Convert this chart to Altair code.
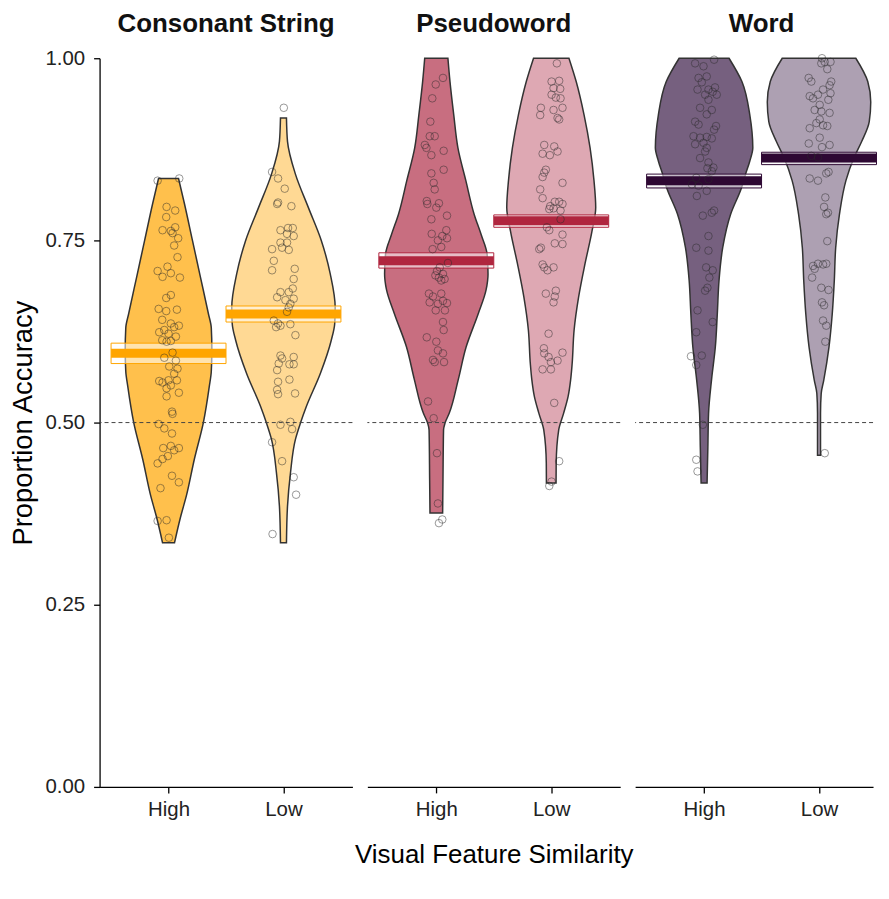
import altair as alt
import pandas as pd

conditions = ["Consonant String", "Pseudoword", "Word"]
similarity = ["High", "Low"]
fill_colors = ["#FFA500", "#B0304A", "#3C1C48"]
mean_colors = ["#FFA500", "#B0263F", "#2E0833"]
chance_level = [0.5]

# mean accuracy and confidence band per (condition, similarity)
mean_acc = [0.595, 0.649, 0.722, 0.777, 0.832, 0.863]
ci_low = [0.581, 0.638, 0.712, 0.768, 0.822, 0.854]
ci_high = [0.609, 0.660, 0.733, 0.785, 0.841, 0.871]

# violin outlines: accuracy level and half-width (in category units)
cs_high_level = [0.835, 0.80, 0.75, 0.70, 0.65, 0.63, 0.60, 0.57, 0.55, 0.50, 0.45, 0.40, 0.37, 0.335]
cs_high_half = [0.087, 0.139, 0.208, 0.277, 0.346, 0.372, 0.377, 0.372, 0.355, 0.303, 0.225, 0.156, 0.104, 0.052]
cs_low_level = [0.918, 0.886, 0.841, 0.795, 0.750, 0.704, 0.658, 0.636, 0.613, 0.567, 0.522, 0.499, 0.477, 0.431, 0.385, 0.335]
cs_low_half = [0.026, 0.035, 0.104, 0.217, 0.329, 0.407, 0.450, 0.446, 0.416, 0.320, 0.199, 0.147, 0.104, 0.061, 0.035, 0.026]
pw_high_level = [1.0, 0.968, 0.922, 0.877, 0.832, 0.786, 0.758, 0.731, 0.704, 0.682, 0.649, 0.604, 0.559, 0.513, 0.499, 0.490, 0.422, 0.376]
pw_high_half = [0.101, 0.119, 0.152, 0.188, 0.257, 0.329, 0.390, 0.442, 0.450, 0.433, 0.364, 0.260, 0.191, 0.113, 0.075, 0.063, 0.058, 0.055]
pw_low_level = [1.0, 0.968, 0.922, 0.877, 0.832, 0.795, 0.763, 0.718, 0.672, 0.627, 0.581, 0.559, 0.536, 0.513, 0.490, 0.444, 0.417]
pw_low_half = [0.154, 0.217, 0.286, 0.338, 0.372, 0.387, 0.355, 0.294, 0.238, 0.199, 0.182, 0.169, 0.147, 0.108, 0.065, 0.043, 0.042]
wd_high_level = [1.0, 0.968, 0.922, 0.877, 0.859, 0.841, 0.822, 0.786, 0.740, 0.695, 0.649, 0.604, 0.559, 0.513, 0.467, 0.417]
wd_high_half = [0.217, 0.329, 0.398, 0.424, 0.398, 0.361, 0.325, 0.231, 0.162, 0.130, 0.115, 0.098, 0.065, 0.039, 0.033, 0.026]
wd_low_level = [1.0, 0.968, 0.940, 0.913, 0.886, 0.863, 0.832, 0.786, 0.740, 0.695, 0.649, 0.604, 0.558, 0.540, 0.513, 0.455]
wd_low_half = [0.320, 0.424, 0.450, 0.437, 0.372, 0.303, 0.234, 0.178, 0.145, 0.133, 0.115, 0.087, 0.041, 0.019, 0.013, 0.013]

# individual participants: accuracy and horizontal jitter
cs_high_acc = [0.832, 0.835, 0.796, 0.791, 0.782, 0.764, 0.763, 0.768, 0.760, 0.753, 0.743, 0.727, 0.708, 0.714,
               0.705, 0.700, 0.699, 0.675, 0.671, 0.656, 0.653, 0.655, 0.641, 0.636, 0.633, 0.627, 0.631, 0.624,
               0.622, 0.618, 0.613, 0.612, 0.611, 0.596, 0.589, 0.585, 0.577, 0.574, 0.567, 0.557, 0.558, 0.558,
               0.555, 0.551, 0.547, 0.541, 0.536, 0.515, 0.512, 0.498, 0.492, 0.485, 0.465, 0.468, 0.465, 0.462,
               0.454, 0.450, 0.444, 0.427, 0.418, 0.410, 0.365, 0.366, 0.342]
cs_high_jit = [-0.095, 0.093, -0.017, 0.058, -0.020, -0.052, 0.020, 0.058, 0.035, 0.084, 0.049, 0.078, -0.095, -0.009,
               0.020, -0.052, 0.099, 0.020, -0.020, -0.086, -0.020, 0.073, -0.055, 0.020, 0.090, -0.037, 0.049, -0.081,
               0.000, 0.064, -0.055, 0.020, -0.017, 0.035, -0.037, 0.064, 0.006, 0.078, 0.049, -0.081, 0.000, 0.073,
               -0.052, 0.020, -0.017, 0.090, -0.017, 0.030, 0.035, -0.086, -0.037, 0.030, -0.046, 0.020, 0.090, 0.049,
               -0.006, -0.052, -0.095, 0.030, 0.090, -0.070, -0.095, -0.017, 0.003]
cs_low_acc = [0.932, 0.844, 0.835, 0.821, 0.802, 0.800, 0.797, 0.764, 0.767, 0.767, 0.759, 0.756, 0.747, 0.747,
              0.738, 0.740, 0.737, 0.722, 0.709, 0.711, 0.697, 0.684, 0.679, 0.679, 0.672, 0.668, 0.663, 0.670,
              0.658, 0.652, 0.640, 0.636, 0.633, 0.631, 0.635, 0.620, 0.592, 0.588, 0.581, 0.590, 0.580, 0.580,
              0.572, 0.559, 0.556, 0.545, 0.539, 0.540, 0.497, 0.501, 0.491, 0.473, 0.447, 0.425, 0.401, 0.347]
cs_low_jit = [0.003, -0.099, -0.047, 0.011, -0.047, -0.055, 0.069, -0.026, 0.040, 0.081, 0.031, 0.089, -0.026, 0.031,
              -0.099, -0.012, 0.046, -0.084, -0.099, 0.098, 0.089, 0.081, 0.046, -0.026, -0.055, 0.017, 0.060, 0.089,
              0.046, 0.031, -0.084, -0.047, -0.026, -0.064, 0.060, 0.104, -0.026, -0.012, -0.041, 0.089, 0.052, 0.089,
              -0.055, 0.052, -0.047, -0.055, -0.047, 0.101, -0.026, 0.060, 0.075, -0.099, -0.012, 0.089, 0.110, -0.095]
pw_high_acc = [0.973, 0.964, 0.945, 0.913, 0.893, 0.893, 0.881, 0.877, 0.867, 0.873, 0.842, 0.847, 0.829, 0.820,
               0.804, 0.800, 0.801, 0.795, 0.779, 0.784, 0.759, 0.764, 0.756, 0.753, 0.750, 0.741, 0.738, 0.719,
               0.713, 0.708, 0.704, 0.699, 0.695, 0.702, 0.697, 0.677, 0.673, 0.677, 0.665, 0.663, 0.667, 0.664,
               0.654, 0.654, 0.638, 0.627, 0.617, 0.611, 0.599, 0.595, 0.586, 0.583, 0.583, 0.529, 0.506, 0.458,
               0.389, 0.362, 0.367]
pw_high_jit = [0.058, -0.005, -0.035, -0.052, -0.057, -0.014, -0.100, -0.086, -0.043, 0.064, -0.043, 0.064, -0.023, -0.014,
               -0.083, -0.078, 0.023, 0.000, -0.043, 0.093, -0.040, 0.087, 0.052, 0.093, 0.014, 0.043, -0.032, 0.101,
               0.030, 0.006, 0.058, 0.023, 0.043, -0.008, 0.072, -0.064, -0.029, 0.043, -0.058, 0.014, 0.058, 0.093,
               -0.005, 0.075, 0.058, 0.064, -0.083, 0.000, 0.014, 0.058, -0.029, -0.014, 0.067, -0.072, -0.023, 0.006,
               0.014, 0.023, 0.052]
pw_low_acc = [0.993, 0.968, 0.969, 0.959, 0.958, 0.950, 0.946, 0.945, 0.932, 0.922, 0.929, 0.932, 0.918, 0.916,
              0.881, 0.879, 0.869, 0.872, 0.867, 0.847, 0.843, 0.837, 0.829, 0.820, 0.808, 0.797, 0.803, 0.803,
              0.800, 0.794, 0.791, 0.793, 0.779, 0.768, 0.764, 0.758, 0.746, 0.738, 0.740, 0.745, 0.717, 0.713,
              0.713, 0.709, 0.677, 0.681, 0.673, 0.665, 0.622, 0.602, 0.595, 0.590, 0.596, 0.585, 0.583, 0.573,
              0.573, 0.527, 0.447, 0.419, 0.413]
pw_low_jit = [0.049, 0.003, 0.069, 0.020, 0.078, 0.003, 0.040, 0.081, -0.090, -0.096, 0.020, 0.098, 0.055, 0.069,
              -0.061, 0.026, -0.075, 0.055, -0.012, -0.047, -0.061, -0.075, 0.098, -0.096, -0.075, -0.009, 0.031, 0.069,
              0.098, 0.020, 0.081, -0.017, 0.081, -0.038, -0.017, 0.098, 0.031, -0.104, -0.090, 0.098, -0.075, -0.061,
              0.020, -0.032, -0.047, 0.040, 0.031, 0.020, -0.023, -0.064, -0.061, -0.023, 0.098, 0.055, -0.003, -0.075,
              -0.003, 0.026, 0.069, 0.003, -0.017]
wd_high_acc = [0.998, 0.993, 0.989, 0.973, 0.975, 0.967, 0.960, 0.957, 0.957, 0.950, 0.954, 0.950, 0.943, 0.932,
               0.929, 0.923, 0.913, 0.907, 0.902, 0.909, 0.893, 0.891, 0.892, 0.890, 0.884, 0.882, 0.877, 0.872,
               0.863, 0.857, 0.849, 0.845, 0.850, 0.836, 0.834, 0.827, 0.825, 0.818, 0.811, 0.791, 0.788, 0.784,
               0.756, 0.740, 0.736, 0.713, 0.709, 0.699, 0.681, 0.685, 0.654, 0.638, 0.624, 0.591, 0.592, 0.579,
               0.497, 0.449, 0.433]
wd_high_jit = [0.087, -0.078, -0.005, -0.048, 0.023, -0.020, 0.095, -0.057, 0.038, 0.009, 0.075, 0.110, 0.038, -0.035,
               0.067, 0.023, -0.078, 0.104, 0.087, -0.048, -0.092, -0.035, 0.023, 0.067, -0.005, -0.078, 0.023, 0.009,
               -0.035, 0.038, 0.029, 0.067, 0.081, -0.068, 0.038, -0.106, -0.048, 0.023, -0.063, 0.087, 0.067, -0.011,
               0.038, -0.068, 0.038, 0.018, 0.075, 0.046, 0.009, 0.029, -0.057, 0.075, -0.068, -0.114, -0.020, -0.068,
               -0.011, -0.068, -0.057]
wd_low_acc = [1.000, 0.993, 0.995, 0.995, 0.985, 0.973, 0.968, 0.968, 0.963, 0.957, 0.948, 0.950, 0.952, 0.945,
              0.943, 0.936, 0.929, 0.927, 0.925, 0.916, 0.911, 0.908, 0.907, 0.904, 0.891, 0.883, 0.878, 0.881,
              0.866, 0.864, 0.844, 0.842, 0.835, 0.832, 0.809, 0.796, 0.788, 0.786, 0.749, 0.715, 0.718, 0.717,
              0.718, 0.699, 0.711, 0.685, 0.682, 0.665, 0.661, 0.640, 0.633, 0.611, 0.458]
wd_low_jit = [0.026, 0.020, 0.049, 0.100, 0.072, -0.090, -0.067, 0.106, 0.092, 0.035, -0.081, -0.009, 0.100, -0.052,
              0.081, 0.006, -0.038, 0.020, 0.092, 0.006, -0.023, 0.035, 0.072, -0.081, 0.006, -0.089, 0.026, 0.092,
              -0.067, -0.009, 0.083, 0.063, -0.081, -0.009, 0.055, 0.044, 0.078, 0.063, 0.072, -0.052, -0.009, 0.035,
              0.063, -0.060, -0.038, 0.020, 0.083, 0.026, 0.044, 0.035, 0.063, 0.055, 0.050]

groups = [
    ("Consonant String", "High", cs_high_level, cs_high_half, cs_high_acc, cs_high_jit),
    ("Consonant String", "Low", cs_low_level, cs_low_half, cs_low_acc, cs_low_jit),
    ("Pseudoword", "High", pw_high_level, pw_high_half, pw_high_acc, pw_high_jit),
    ("Pseudoword", "Low", pw_low_level, pw_low_half, pw_low_acc, pw_low_jit),
    ("Word", "High", wd_high_level, wd_high_half, wd_high_acc, wd_high_jit),
    ("Word", "Low", wd_low_level, wd_low_half, wd_low_acc, wd_low_jit),
]

violin_rows, point_rows, mean_rows = [], [], []
for k, (cond, sim, lv, hw, acc, jit) in enumerate(groups):
    pos = similarity.index(sim) + 1
    for a, h in zip(lv, hw):
        violin_rows.append({"cond": cond, "sim": sim, "level": a, "x0": pos - h, "x1": pos + h})
    for a, j in zip(acc, jit):
        point_rows.append({"cond": cond, "sim": sim, "acc": a, "xj": pos + j})
    mean_rows.append({"cond": cond, "sim": sim, "mean": mean_acc[k], "lo": ci_low[k], "hi": ci_high[k],
                      "bx0": pos - 0.5, "bx1": pos + 0.5})

violin_df = pd.DataFrame(violin_rows)
point_df = pd.DataFrame(point_rows)
mean_df = pd.DataFrame(mean_rows)
chance_df = pd.DataFrame({"chance": chance_level})

FONT = "Liberation Sans"
fill_scale = alt.Scale(domain=conditions, range=fill_colors)
stroke_scale = alt.Scale(domain=conditions, range=mean_colors)
alpha_scale = alt.Scale(domain=similarity, range=[0.7, 0.42])


def panel(i, cond):
    last = i == 2
    # the last panel is cut at the window's edge, as in the original figure
    xmax = 2.47 if last else 2.6
    w = 239 if last else 254
    xscale = alt.Scale(domain=[0.4, xmax], nice=False, zero=False)
    yscale = alt.Scale(domain=[0, 1], nice=False, zero=False)
    if i == 1:
        xaxis = alt.Axis(values=[1, 2], labelExpr="datum.value == 1 ? 'High' : 'Low'",
                         title="Visual Feature Similarity")
    else:
        xaxis = alt.Axis(values=[1, 2], labelExpr="datum.value == 1 ? 'High' : 'Low'", title=None)
    if i == 0:
        yaxis = alt.Axis(values=[0, 0.25, 0.5, 0.75, 1], format=".2f", title="Proportion Accuracy")
    else:
        yaxis = None

    def X(f):
        return alt.X(f, type="quantitative", scale=xscale, axis=xaxis)

    def Y(f):
        if yaxis is None:
            return alt.Y(f, type="quantitative", scale=yscale, axis=None)
        return alt.Y(f, type="quantitative", scale=yscale, axis=yaxis)

    vd = violin_df[violin_df["cond"] == cond]
    pdf = point_df[point_df["cond"] == cond]
    md = mean_df[mean_df["cond"] == cond]

    violins = alt.Chart(vd).mark_area(
        orient="horizontal", interpolate="monotone", stroke="#333333", strokeWidth=1.5
    ).encode(
        y=Y("level"), x=X("x0"), x2="x1",
        fill=alt.Fill("cond:N", scale=fill_scale, legend=None),
        fillOpacity=alt.FillOpacity("sim:N", scale=alpha_scale, legend=None),
        detail="sim:N",
    )
    chance = alt.Chart(chance_df).mark_rule(
        strokeDash=[4, 3], color="#444444", strokeWidth=1
    ).encode(y=Y("chance"))
    ci = alt.Chart(md).mark_rect(fill="white", fillOpacity=0.55, strokeWidth=1).encode(
        x=X("bx0"), x2="bx1", y=Y("lo"), y2="hi",
        stroke=alt.Stroke("cond:N", scale=stroke_scale, legend=None),
    )
    mean_bar = alt.Chart(md).mark_rule(strokeWidth=9).encode(
        x=X("bx0"), x2="bx1", y=Y("mean"),
        stroke=alt.Stroke("cond:N", scale=stroke_scale, legend=None),
    )
    pts = alt.Chart(pdf).mark_point(
        shape="circle", filled=False, size=58, strokeWidth=0.8, color="#2a2a2a", opacity=0.6
    ).encode(x=X("xj"), y=Y("acc"))
    strip = alt.Chart(pd.DataFrame({"cond": [cond]})).mark_text(
        font=FONT, fontSize=26, fontWeight="bold", color="#111111", baseline="alphabetic", align="center"
    ).encode(text="cond:N", x=alt.value(127), y=alt.value(-26))

    return alt.layer(violins, chance, ci, mean_bar, pts, strip).properties(width=w, height=732)


chart = alt.hconcat(*[panel(i, c) for i, c in enumerate(conditions)], spacing=15, bounds="flush").properties(
    padding={"left": 2, "top": 1.5, "right": 0, "bottom": 0}
).configure_view(stroke=None).configure_axis(
    grid=False, domainColor="black", domainWidth=1.3, tickColor="black", tickWidth=1.3, tickSize=6,
    labelColor="#222222", labelFont=FONT, labelFontSize=20.5, titleFont=FONT, titleFontSize=27.5,
    titleFontWeight="normal", titleColor="black",
).configure_axisX(labelPadding=7, titlePadding=21, titleFontSize=26).configure_axisY(labelPadding=9, titlePadding=7)

chart.save("out.html", embed_options={"renderer": "svg", "actions": False})
